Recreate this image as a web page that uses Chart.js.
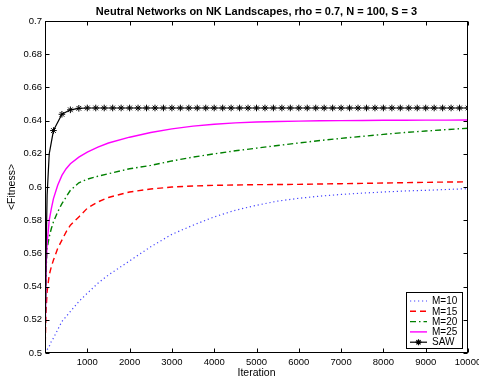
<!DOCTYPE html>
<html>
<head>
<meta charset="utf-8">
<script src="https://cdn.jsdelivr.net/npm/chart.js@4/dist/chart.umd.min.js"></script>
<style>
  body { margin: 0; background: #fff; }
  canvas { display: block; }
</style>
</head>
<body>
<canvas id="nkChart" width="479" height="385"></canvas>
<script>
const TITLE = 'Neutral Networks on NK Landscapes, rho = 0.7, N = 100, S = 3';
const X_LABEL = 'Iteration';
const Y_LABEL = '<Fitness>';
const SERIES_NAMES = ['M=10', 'M=15', 'M=20', 'M=25', 'SAW'];

const ITERATIONS = [0, 25, 50, 100, 150, 200, 300, 400, 500, 600, 800, 1000, 1250, 1500, 2000, 2500,
    3000, 3500, 4000, 4500, 5000, 5500, 6000, 6500, 7000, 7500, 8000, 8500, 9000, 9500, 10000];

const M10 = [0.500, 0.501, 0.502, 0.504, 0.507, 0.509, 0.514, 0.519, 0.522, 0.525, 0.531, 0.536, 0.542, 0.547, 0.5555, 0.564,
    0.5715, 0.577, 0.582, 0.586, 0.589, 0.5915, 0.5932, 0.5945, 0.5955, 0.5963, 0.597, 0.5976, 0.598, 0.5985, 0.599];
const M15 = [0.500, 0.525, 0.537, 0.547, 0.552, 0.556, 0.563, 0.568, 0.573, 0.577, 0.582, 0.5872, 0.591, 0.5937, 0.597, 0.5988,
    0.600, 0.6006, 0.601, 0.6012, 0.6014, 0.6015, 0.6016, 0.6018, 0.602, 0.6022, 0.6024, 0.6026, 0.6028, 0.603, 0.6031];
const M20 = [0.500, 0.550, 0.563, 0.570, 0.575, 0.579, 0.585, 0.590, 0.594, 0.598, 0.6025, 0.6047, 0.6065, 0.608, 0.611, 0.613,
    0.6157, 0.618, 0.620, 0.6218, 0.6234, 0.625, 0.6265, 0.628, 0.6293, 0.6305, 0.6317, 0.6328, 0.6337, 0.6346, 0.6354];
const M25 = [0.500, 0.552, 0.566, 0.580, 0.587, 0.593, 0.601, 0.607, 0.611, 0.614, 0.618, 0.621, 0.624, 0.6265, 0.630, 0.6328,
    0.635, 0.6367, 0.6378, 0.6386, 0.6392, 0.6395, 0.6397, 0.6399, 0.640, 0.6401, 0.6402, 0.6402, 0.6403, 0.6403, 0.6404];

const SAW_ITERATIONS = [0, 25, 50, 100, 200, 400, 600, 800, 1000, 1200, 1400, 1600, 1800, 2000, 2200, 2400, 2600, 2800,
    3000, 3200, 3400, 3600, 3800, 4000, 4200, 4400, 4600, 4800, 5000, 5200, 5400, 5600, 5800, 6000, 6200, 6400,
    6600, 6800, 7000, 7200, 7400, 7600, 7800, 8000, 8200, 8400, 8600, 8800, 9000, 9200, 9400, 9600, 9800, 10000];
const SAW = [0.500, 0.560, 0.595, 0.620, 0.634, 0.6438, 0.6465, 0.6474, 0.6476, 0.6476, 0.6476, 0.6476, 0.6476, 0.6476,
    0.6476, 0.6476, 0.6476, 0.6476, 0.6476, 0.6476, 0.6476, 0.6476, 0.6476, 0.6476, 0.6476, 0.6476, 0.6476, 0.6476,
    0.6476, 0.6476, 0.6476, 0.6476, 0.6476, 0.6476, 0.6476, 0.6476, 0.6476, 0.6476, 0.6476, 0.6476, 0.6476, 0.6476,
    0.6476, 0.6476, 0.6476, 0.6476, 0.6476, 0.6476, 0.6476, 0.6476, 0.6476, 0.6476, 0.6476, 0.6476];
// the first few SAW points only shape the steep start, no marker there
const SAW_UNMARKED = 4;

const FONT = "'Liberation Sans', Arial, Helvetica, sans-serif";

function toPoints(xs, ys) {
    return xs.map((x, i) => ({ x: x, y: ys[i] }));
}

// matlab style box with inward ticks on all four sides, title and legend
const matlabFrame = {
    id: 'matlabFrame',
    afterDraw(chart) {
        const { ctx, chartArea: a, scales: { x, y } } = chart;
        const L = Math.round(a.left) + 0.5, R = Math.round(a.right) - 0.5;
        const T = Math.round(a.top) + 0.5, B = Math.round(a.bottom) - 0.5;
        ctx.save();
        ctx.strokeStyle = '#000';
        ctx.lineWidth = 1;
        ctx.setLineDash([]);
        ctx.strokeRect(L, T, R - L, B - T);
        ctx.beginPath();
        x.ticks.forEach(t => {
            const px = Math.round(x.getPixelForValue(t.value)) + 0.5;
            ctx.moveTo(px, B); ctx.lineTo(px, B - 4);
            ctx.moveTo(px, T); ctx.lineTo(px, T + 4);
        });
        y.ticks.forEach(t => {
            const py = Math.round(y.getPixelForValue(t.value)) + 0.5;
            ctx.moveTo(L, py); ctx.lineTo(L + 4, py);
            ctx.moveTo(R, py); ctx.lineTo(R - 4, py);
        });
        ctx.stroke();

        ctx.fillStyle = '#000';
        ctx.font = 'bold 11px ' + FONT;
        ctx.textAlign = 'center';
        ctx.textBaseline = 'middle';
        ctx.fillText(TITLE, (a.left + a.right) / 2, 12);

        drawLegend(chart);
        ctx.restore();
    }
};

function drawLegend(chart) {
    const ctx = chart.ctx;
    const box = { left: 406.5, top: 292.5, right: 462.5, bottom: 348.5 };
    ctx.fillStyle = '#fff';
    ctx.fillRect(box.left, box.top, box.right - box.left, box.bottom - box.top);
    ctx.strokeStyle = '#000';
    ctx.lineWidth = 1;
    ctx.setLineDash([]);
    ctx.strokeRect(box.left, box.top, box.right - box.left, box.bottom - box.top);

    ctx.font = '10px ' + FONT;
    ctx.textAlign = 'left';
    ctx.textBaseline = 'middle';
    SERIES_NAMES.forEach((name, i) => {
        const ds = chart.data.datasets.find(d => d.label === name);
        const yy = 301 + i * 10.3;
        ctx.save();
        ctx.strokeStyle = ds.borderColor;
        ctx.lineWidth = ds.borderWidth;
        ctx.setLineDash(ds.borderDash || []);
        ctx.beginPath();
        ctx.moveTo(410, yy);
        ctx.lineTo(427, yy);
        ctx.stroke();
        if (name === 'SAW') {
            ctx.setLineDash([]);
            Chart.helpers.drawPoint(ctx, { pointStyle: 'star', radius: 3, borderWidth: 1 }, 418.5, yy);
        }
        ctx.restore();
        ctx.fillStyle = '#000';
        ctx.fillText(name, 432, yy + 0.5);
    });
}

const ctx = document.getElementById('nkChart').getContext('2d');
const chart = new Chart(ctx, {
    type: 'line',
    data: {
        datasets: [
            {
                label: 'SAW',
                data: toPoints(SAW_ITERATIONS, SAW),
                borderColor: '#000',
                backgroundColor: '#000',
                borderWidth: 1.2,
                pointStyle: 'star',
                pointRadius: c => c.dataIndex < SAW_UNMARKED ? 0 : 3.3,
                pointBorderWidth: 1,
                pointBorderColor: '#000',
                order: 0
            },
            {
                label: 'M=25',
                data: toPoints(ITERATIONS, M25),
                borderColor: '#ff00ff',
                borderWidth: 1.4,
                pointRadius: 0,
                order: 1
            },
            {
                label: 'M=20',
                data: toPoints(ITERATIONS, M20),
                borderColor: '#008000',
                borderWidth: 1.4,
                borderDash: [6, 3, 1.5, 3],
                pointRadius: 0,
                order: 2
            },
            {
                label: 'M=15',
                data: toPoints(ITERATIONS, M15),
                borderColor: '#ff0000',
                borderWidth: 1.4,
                borderDash: [6, 4],
                pointRadius: 0,
                order: 3
            },
            {
                label: 'M=10',
                data: toPoints(ITERATIONS, M10),
                borderColor: '#4444ff',
                borderWidth: 1.2,
                borderDash: [1.2, 2.8],
                pointRadius: 0,
                order: 4
            }
        ]
    },
    options: {
        responsive: false,
        animation: false,
        layout: { padding: { top: 21, right: 11, left: 0, bottom: 0 } },
        plugins: {
            legend: { display: false },
            title: { display: false },
            tooltip: { enabled: false }
        },
        scales: {
            x: {
                type: 'linear',
                min: 0,
                max: 10000,
                grid: { display: false, drawTicks: false },
                border: { display: false },
                afterFit: s => { s.height = 32; s.paddingLeft = 0; s.paddingRight = 0; },
                ticks: {
                    stepSize: 1000,
                    padding: 4,
                    color: '#000',
                    font: { family: FONT, size: 9.5 },
                    maxRotation: 0,
                    callback: v => v === 0 ? '' : String(v)
                },
                title: {
                    display: true,
                    text: X_LABEL,
                    color: '#000',
                    font: { family: FONT, size: 10.5 },
                    padding: { top: 0, bottom: 6 }
                }
            },
            y: {
                min: 0.5,
                max: 0.7,
                grid: { display: false, drawTicks: false },
                border: { display: false },
                afterFit: s => { s.width = 45; s.paddingTop = 0; s.paddingBottom = 0; },
                ticks: {
                    stepSize: 0.02,
                    padding: 3,
                    color: '#000',
                    font: { family: FONT, size: 9.5 },
                    callback: v => String(Number(v.toFixed(2)))
                },
                title: {
                    display: true,
                    text: Y_LABEL,
                    color: '#000',
                    font: { family: FONT, size: 10.5 },
                    padding: { top: 6, bottom: 0 }
                }
            }
        }
    },
    plugins: [matlabFrame]
});
</script>
</body>
</html>
